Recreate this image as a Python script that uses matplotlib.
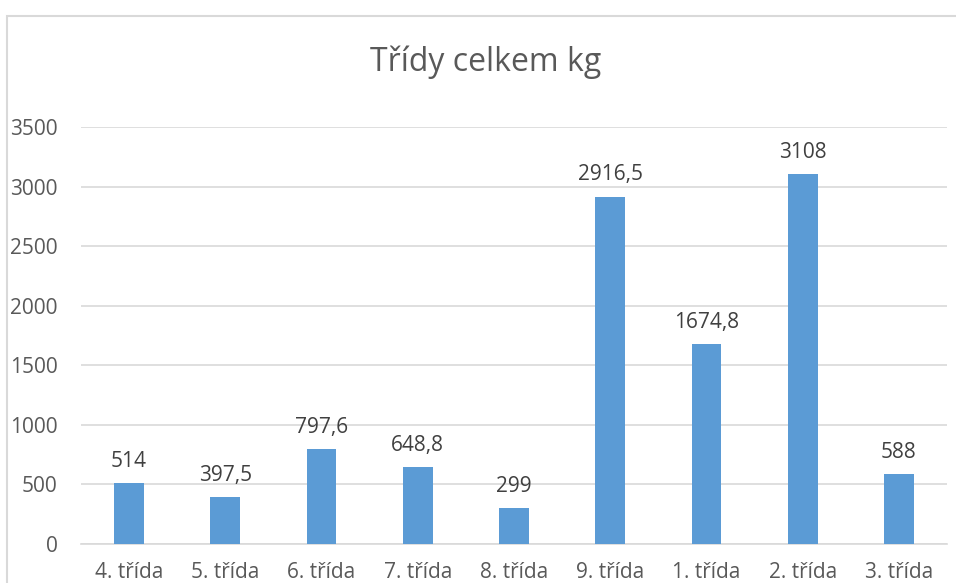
"""Bar chart: Třídy celkem kg."""

import matplotlib

matplotlib.use("Agg")

import matplotlib.pyplot as plt  # noqa: E402
from matplotlib.patches import Rectangle  # noqa: E402

categories = ["4. třída", "5. třída", "6. třída", "7. třída", "8. třída",
              "9. třída", "1. třída", "2. třída", "3. třída"]
values = [514, 397.5, 797.6, 648.8, 299, 2916.5, 1674.8, 3108, 588]
y_ticks = [0, 500, 1000, 1500, 2000, 2500, 3000, 3500]

plt.rcParams["font.family"] = ["Open Sans", "DejaVu Sans"]

W, H = 956, 583
fig = plt.figure(figsize=(W / 100, H / 100), dpi=100)

# chart-area border (cropped at right and bottom)
fig.patches.append(Rectangle((7 / W, -0.1), 1.1, 1 - 16 / H + 0.1,
                             transform=fig.transFigure, fill=False,
                             edgecolor="#d9d9d9", linewidth=1.5))

ax = fig.add_axes([81 / W, 1 - 544 / H, 866 / W, 417 / H])
x = range(len(categories))
ax.bar(x, values, width=0.31, color="#5b9bd5", zorder=3)

for xi, v in zip(x, values):
    label = f"{v:g}".replace(".", ",")
    ax.annotate(label, (xi, v), xytext=(0, 8), textcoords="offset points",
                ha="center", va="bottom", fontsize=15, color="#404040")

ax.set_xlim(-0.5, len(categories) - 0.5)
ax.set_ylim(0, 3500)
ax.set_yticks(y_ticks)
ax.set_xticks(list(x))
ax.set_xticklabels(categories)
ax.tick_params(axis="y", length=0, pad=17, labelsize=15, labelcolor="#595959")
ax.tick_params(axis="x", length=0, pad=13, labelsize=15, labelcolor="#595959")
ax.grid(axis="y", color="#d9d9d9", linewidth=1.2, zorder=0)
for side in ("left", "right", "top"):
    ax.spines[side].set_visible(False)
ax.spines["bottom"].set_color("#d9d9d9")
ax.spines["bottom"].set_linewidth(1.2)

fig.text(486 / W, 1 - 62 / H, "Třídy celkem kg", ha="center", va="center",
         fontsize=23, color="#595959")

fig.savefig("out.png", dpi=100)
plt.close(fig)
